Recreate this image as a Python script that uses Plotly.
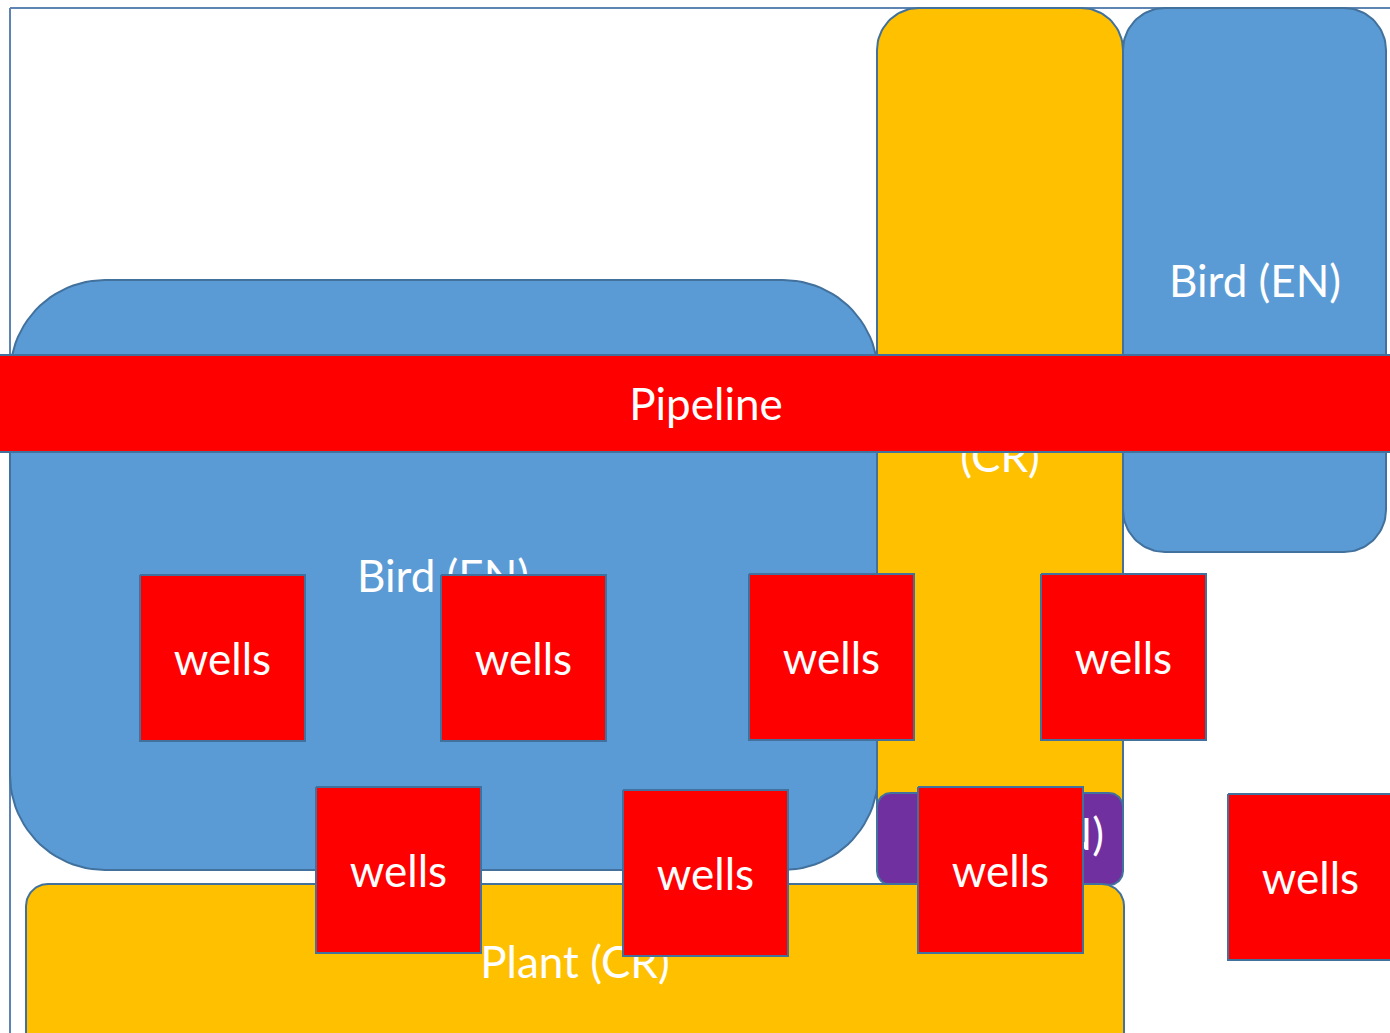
import numpy as np
import plotly.graph_objects as go

# ---- data: regions (pixel-space diagram coordinates) ----
region_names = ["Bird (EN) large", "Plant (CR) tall", "Bird (EN) right", "Purple zone", "Plant (CR) bottom", "Pipeline"]
region_x0 = [10, 877, 1123, 877, 26, -5]
region_x1 = [878, 1123, 1386, 1123, 1124, 1400]
region_y0 = [280, 8, 8, 793, 884, 355]
region_y1 = [870, 886, 552, 885, 1060, 452]
region_radius = [95, 42, 42, 14, 22, 0]
region_colors = ["#5B9BD5", "#FFC000", "#5B9BD5", "#7030A0", "#FFC000", "#FF0000"]
region_labels = [["Bird (EN)"], ["Plant", "(CR)"], ["Bird (EN)"], ["Fish (EN)"], ["Plant (CR)"], ["Pipeline"]]
region_label_x = [[443], [1000, 1000], [1255], [1104], [575], [706]]
region_label_y = [[581], [411, 461], [286], [839], [967], [409]]
region_label_anchor = ["middle center", "middle center", "middle center", "middle left", "middle center", "middle center"]

wells_x0 = [140, 441, 749, 1041, 316, 623, 918, 1228]
wells_y0 = [575, 575, 574, 574, 787, 790, 787, 794]
wells_size = 165
wells_label = "wells"

EDGE = "#41719C"
FONT = "Lato"
FS = 44


def rounded_rect(x0, x1, y0, y1, r, n=24):
    if r <= 0:
        return [x0, x1, x1, x0, x0], [y0, y0, y1, y1, y0]
    xs, ys = [], []
    corners = [(x1 - r, y0 + r, -90, 0), (x1 - r, y1 - r, 0, 90),
               (x0 + r, y1 - r, 90, 180), (x0 + r, y0 + r, 180, 270)]
    for cx, cy, a0, a1 in corners:
        t = np.radians(np.linspace(a0, a1, n))
        xs.extend(cx + r * np.cos(t))
        ys.extend(cy + r * np.sin(t))
    xs.append(xs[0]); ys.append(ys[0])
    return xs, ys


fig = go.Figure()

# outer frame
fx, fy = rounded_rect(10, 1420, 8, 1060, 0)
fig.add_trace(go.Scatter(x=fx, y=fy, mode="lines", line=dict(color="#5E84B4", width=2),
                         hoverinfo="skip", showlegend=False))

for i, name in enumerate(region_names):
    xs, ys = rounded_rect(region_x0[i], region_x1[i], region_y0[i], region_y1[i], region_radius[i])
    fig.add_trace(go.Scatter(x=xs, y=ys, mode="lines", fill="toself", fillcolor=region_colors[i],
                             line=dict(color=EDGE, width=2), name=name,
                             hoverinfo="skip", showlegend=False))
    fig.add_trace(go.Scatter(x=region_label_x[i], y=region_label_y[i], mode="text",
                             text=region_labels[i], textposition=region_label_anchor[i],
                             textfont=dict(family=FONT, size=FS, color="white"),
                             hoverinfo="skip", showlegend=False))

for wx, wy in zip(wells_x0, wells_y0):
    xs, ys = rounded_rect(wx, wx + wells_size, wy, wy + wells_size + 1, 0)
    fig.add_trace(go.Scatter(x=xs, y=ys, mode="lines", fill="toself", fillcolor="#FF0000",
                             line=dict(color=EDGE, width=2), hoverinfo="skip", showlegend=False))
    fig.add_trace(go.Scatter(x=[wx + wells_size / 2], y=[wy + wells_size / 2 + 6], mode="text",
                             text=[wells_label], textposition="middle center",
                             textfont=dict(family=FONT, size=FS, color="white"),
                             hoverinfo="skip", showlegend=False))

fig.update_layout(
    width=1390, height=1033, autosize=False,
    margin=dict(l=0, r=0, t=0, b=0, pad=0),
    paper_bgcolor="white", plot_bgcolor="white",
    xaxis=dict(range=[0, 1390], visible=False, fixedrange=True),
    yaxis=dict(range=[1033, 0], visible=False, fixedrange=True),
)

fig.write_html("out.html", post_script="document.body.style.margin='0';document.body.style.overflow='hidden';",
               config={"displayModeBar": False})
